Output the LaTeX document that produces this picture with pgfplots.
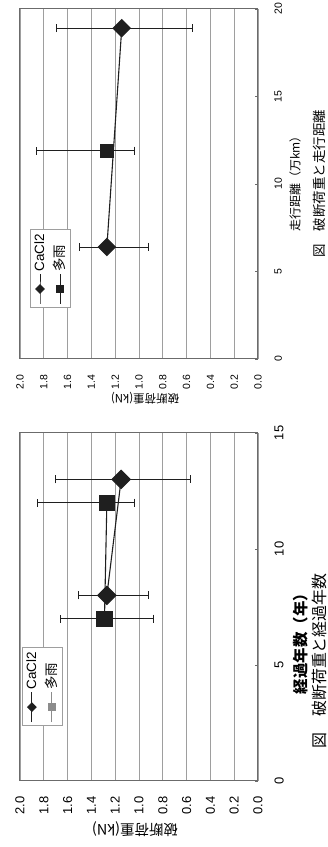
\documentclass[border=0pt]{standalone}
\usepackage{pgfplots}
\pgfplotsset{compat=1.18}
\usepackage{fontspec}
\setmainfont{Liberation Sans}
\newfontfamily\jp{Noto Sans CJK JP}
\usepackage{graphicx}
\definecolor{gridc}{gray}{0.62}
\definecolor{framec}{gray}{0.42}
\definecolor{ink}{gray}{0.12}
\definecolor{legg}{gray}{0.55}
\newsavebox{\chartbox}
\pgfplotsset{
  brk/.style={
    scale only axis, anchor=south west, height=238bp,
    ymin=0, ymax=2, ytick={0,0.2,0.4,0.6,0.8,1.0,1.2,1.4,1.6,1.8,2.0},
    ymajorgrids, major grid style={gridc, line width=0.8bp},
    axis line style={framec, line width=1bp},
    ytick style={draw=none},
    xtick style={framec, line width=0.6bp},
    tick align=inside, major tick length=3bp,
    xtick pos=bottom, ytick pos=left,
    /pgf/number format/assume math mode=true,
    yticklabel style={/pgf/number format/fixed, /pgf/number format/fixed zerofill, /pgf/number format/precision=1},
    xticklabel style={yshift=-13bp},
    legend cell align=left,
    legend image code/.code={\draw[mark repeat=2,mark phase=2,##1] plot coordinates {(0bp,0bp) (15bp,0bp) (30bp,0bp)};},
  },
  eb/.style={error bars/.cd, y dir=both, y explicit,
    error bar style={ink, line width=0.8bp},
    error mark options={ink, line width=0.8bp, mark size=4bp, rotate=90}},
}
\begin{document}
\begin{lrbox}{\chartbox}%
\begin{tikzpicture}
% ---------- left: years ----------
\begin{axis}[brk, at={(66bp,70bp)}, width=348bp,
  xmin=0, xmax=15, xtick={0,5,10,15},
  ticklabel style={font=\fontsize{13}{13}\selectfont},
  yticklabel style={xshift=-12bp},
  legend style={at={(axis description cs:0.158,0.992)}, anchor=north west,
    draw=gridc, line width=0.8bp, fill=white, font=\fontsize{13.5}{15}\selectfont,
    inner xsep=3bp, inner ysep=2bp, row sep=4bp}]
\addplot[ink, line width=1.1bp, mark=square*, mark size=7.5bp,
  mark options={solid, fill=ink, draw=ink}, forget plot, eb]
  coordinates {(7,1.29) +=(0,0.37) -=(0,0.41) (12,1.27) +=(0,0.585) -=(0,0.23)};
\addplot[ink, line width=1.1bp, mark=square*, mark size=6.4bp,
  mark options={solid, fill=ink, draw=ink, rotate=45}, forget plot, eb]
  coordinates {(8,1.27) +=(0,0.24) -=(0,0.35) (13,1.15) +=(0,0.55) -=(0,0.58)};
\addlegendimage{ink, line width=1bp, mark=square*, mark size=3bp, mark options={rotate=45, fill=ink}}
\addlegendentry{CaCl2}
\addlegendimage{legg, line width=1bp, mark=square*, mark size=3.5bp, mark options={fill=legg}}
\addlegendentry{\jp 多雨}
\end{axis}
% ---------- right: distance ----------
\begin{axis}[brk, at={(488bp,70bp)}, width=350bp,
  xmin=0, xmax=20, xtick={0,5,10,15,20},
  ticklabel style={font=\fontsize{10.5}{10.5}\selectfont},
  yticklabel style={xshift=-12bp},
  legend style={at={(axis description cs:0.146,0.958)}, anchor=north west,
    draw=gridc, line width=0.8bp, fill=white, font=\fontsize{13.5}{15}\selectfont,
    inner xsep=3bp, inner ysep=2bp, row sep=4bp}]
\addplot[ink, only marks, mark=square*, mark size=6.5bp,
  mark options={solid, fill=ink, draw=ink}, forget plot, eb]
  coordinates {(11.9,1.27) +=(0,0.59) -=(0,0.235)};
\addplot[ink, line width=1.1bp, mark=square*, mark size=6bp,
  mark options={solid, fill=ink, draw=ink, rotate=45}, forget plot, eb]
  coordinates {(6.4,1.27) +=(0,0.23) -=(0,0.35) (18.9,1.145) +=(0,0.55) -=(0,0.59)};
\addlegendimage{ink, line width=1bp, mark=square*, mark size=3bp, mark options={rotate=45, fill=ink}}
\addlegendentry{CaCl2}
\addlegendimage{ink, line width=1bp, mark=square*, mark size=3.5bp, mark options={fill=ink}}
\addlegendentry{\jp 多雨}
\end{axis}
% ---------- labels ----------
\node[rotate=90, font=\jp\fontsize{14.5}{15}\selectfont] at (18bp,193bp) {破断荷重(kN)};
\node[font=\jp\bfseries\fontsize{15.5}{16}\selectfont] at (207bp,27bp) {経過年数（年）};
\node[font=\jp\fontsize{16}{17}\selectfont] at (186bp,9bp) {図　破断荷重と経過年数};
\node[rotate=90, font=\jp\fontsize{11.5}{12}\selectfont] at (449bp,183bp) {破断荷重(kN)};
\node[font=\jp\fontsize{12}{13}\selectfont] at (666bp,33bp) {走行距離（万km）};
\node[font=\jp\fontsize{13.5}{14}\selectfont] at (663bp,9bp) {図　破断荷重と走行距離};
\pgfresetboundingbox
\path[use as bounding box] (0,0) rectangle (847bp,328bp);
\end{tikzpicture}%
\end{lrbox}%
\rotatebox{90}{\usebox{\chartbox}}%
\end{document}
